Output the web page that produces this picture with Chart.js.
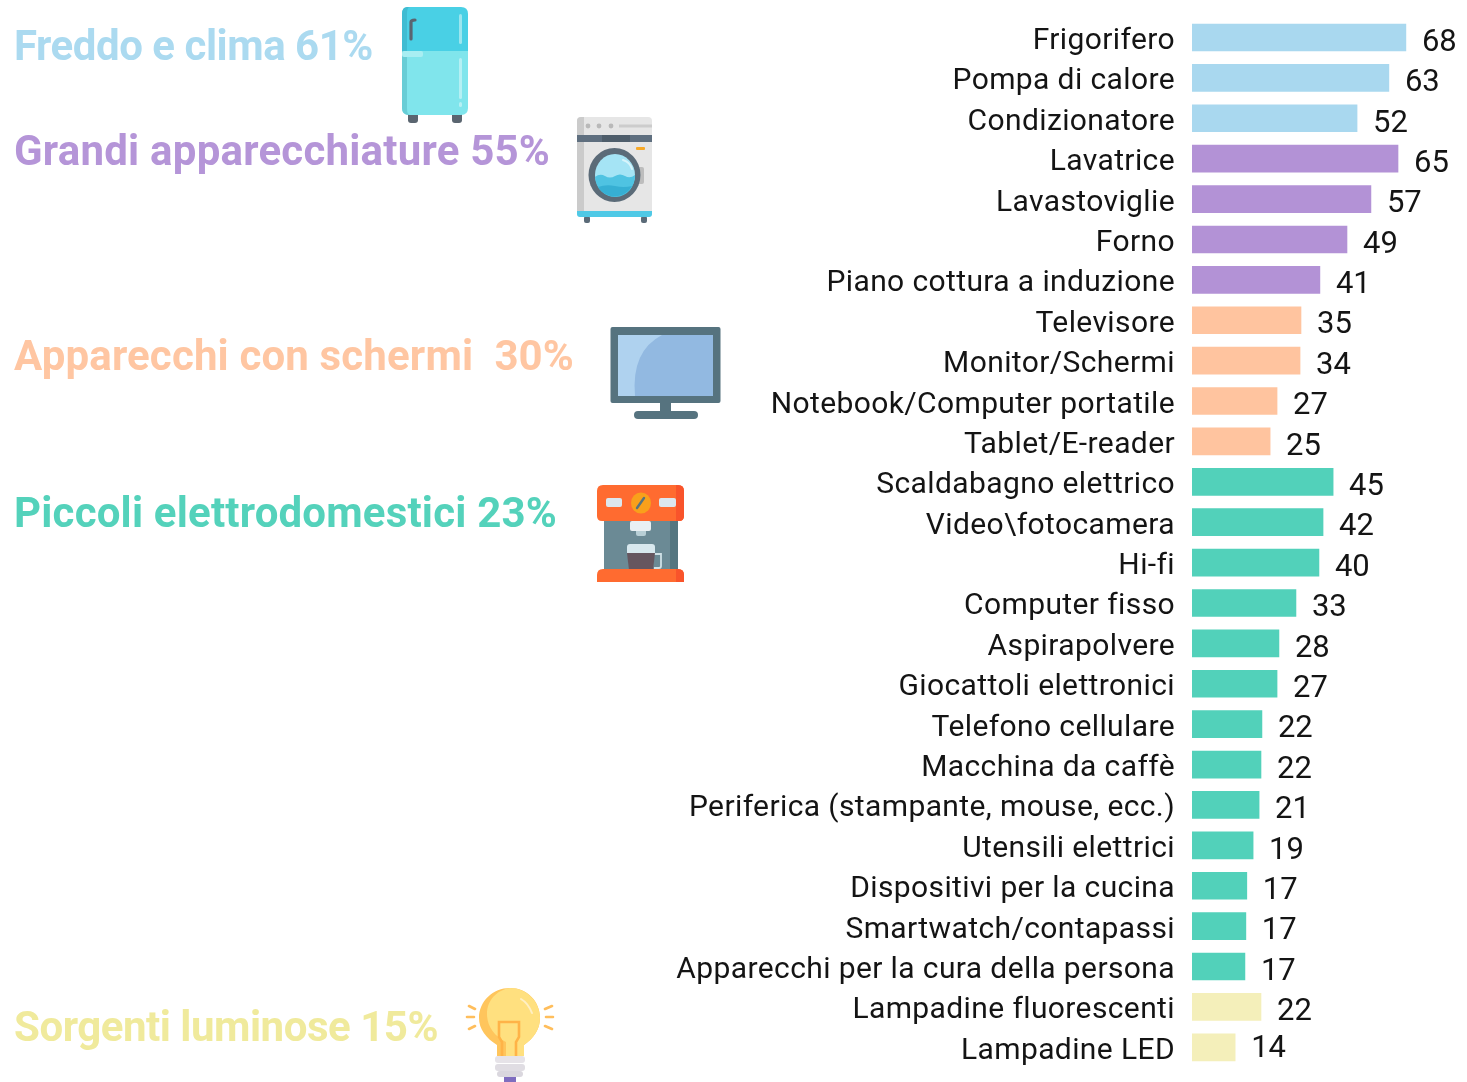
<!DOCTYPE html>
<html lang="it">
<head>
<meta charset="utf-8">
<title>Elettrodomestici</title>
<script src="https://cdn.jsdelivr.net/npm/chart.js@4"></script>
<style>
html,body{margin:0;padding:0;background:#fff;}
#wrap{position:relative;width:1467px;height:1082px;overflow:hidden;}
canvas{position:absolute;left:0;top:0;}
#icons{position:absolute;left:0;top:0;pointer-events:none;}
</style>
</head>
<body>
<div id="wrap">
<canvas id="c" width="1467" height="1082"></canvas>
<svg id="icons" width="1467" height="1082" viewBox="0 0 1467 1082" aria-hidden="true">
  <!-- fridge -->
  <rect x="408" y="112" width="10" height="11" rx="3" fill="#5A6570"/>
  <rect x="452" y="112" width="10" height="11" rx="3" fill="#5A6570"/>
  <path d="M402 51V14q0-7 7-7h52q7 0 7 7v37z" fill="#49D0E5"/>
  <path d="M402 51V14q0-7 5-7h3q-3 0-3 7v37z" fill="#3FBCD2"/>
  <path d="M402 51h66v57q0 7-7 7h-52q-7 0-7-7z" fill="#80E5EC"/>
  <path d="M402 51h5v57q0 7 3 7h-1q-7 0-7-7z" fill="#68CDD6"/>
  <rect x="402" y="51" width="21" height="6" rx="2" fill="#A8EEF2"/>
  <rect x="459" y="14" width="3" height="30" rx="1.5" fill="#9BE6EF"/>
  <rect x="459" y="58" width="3" height="41" rx="1.5" fill="#B5F0F4"/>
  <rect x="459" y="102" width="3" height="5" rx="1.5" fill="#B5F0F4"/>
  <path d="M411 39V22q0-2 4-2" fill="none" stroke="#5A6570" stroke-width="3.2" stroke-linecap="round"/>
  <!-- washer -->
  <rect x="584" y="216" width="6" height="7" rx="2" fill="#5B6B78"/>
  <rect x="641" y="216" width="6" height="7" rx="2" fill="#5B6B78"/>
  <rect x="577" y="117" width="75" height="100" rx="4" fill="#E6E6E6"/>
  <path d="M577 121q0-4 4-4h3v94h-7z" fill="#CBCBCB"/>
  <rect x="577" y="135" width="75" height="7" fill="#5F6F7F"/>
  <rect x="602" y="135" width="28" height="7" fill="#4F5E6B"/>
  <circle cx="588" cy="126" r="2.4" fill="#B9B9B9"/>
  <circle cx="599" cy="126" r="2.4" fill="#B9B9B9"/>
  <circle cx="611" cy="126" r="2.4" fill="#B9B9B9"/>
  <rect x="619" y="124.500" width="33" height="3" fill="#CCCCCC"/>
  <rect x="636" y="147" width="9" height="3" rx="1" fill="#F7A928"/>
  <rect x="634" y="167" width="10" height="17" rx="2" fill="#BDBDBD"/>
  <ellipse cx="614.500" cy="175" rx="26" ry="27" fill="#5B6B78"/>
  <ellipse cx="615" cy="175" rx="20" ry="21" fill="#A5E4F5"/>
  <path d="M595 177q5-4 10-1t10 0 10 0 10-1a20 21 0 0 1-40 2z" fill="#4FC3E2"/>
  <path d="M598 187q8-3 17-1t17 0a20 21 0 0 1-34 1z" fill="#36AFD3"/>
  <path d="M623 160q7 2 9 9" fill="none" stroke="#D8F4FB" stroke-width="2" stroke-linecap="round"/>
  <path d="M577 211h75v3q0 3-3 3h-69q-3 0-3-3z" fill="#4FC9E6"/>
  <!-- monitor -->
  <rect x="660" y="402" width="11" height="10" fill="#56737F"/>
  <rect x="634" y="411" width="64" height="8" rx="4" fill="#56737F"/>
  <rect x="610.500" y="327" width="110" height="76" rx="2" fill="#56737F"/>
  <rect x="618" y="335" width="95" height="61" fill="#92B9E1"/>
  <path d="M618 335h44q-31 16-27 61h-17z" fill="#AFD2EF"/>
  <!-- coffee machine -->
  <rect x="604" y="518" width="74" height="54" fill="#6B8A95"/>
  <rect x="670" y="518" width="8" height="54" fill="#557680"/>
  <path d="M597 491q0-6 6-6h75q6 0 6 6v25q0 5-5 5h-77q-5 0-5-5z" fill="#FF6B30"/>
  <path d="M676 485h2q6 0 6 6v25q0 5-5 5h-3z" fill="#F9542B"/>
  <rect x="606" y="498" width="16" height="9" rx="2" fill="#DCE7EE"/>
  <rect x="659" y="498" width="17" height="9" rx="2" fill="#DCE7EE"/>
  <ellipse cx="641" cy="503" rx="10" ry="10.500" fill="#F9A01B"/>
  <path d="M637 508l7-10" stroke="#56737F" stroke-width="2.400" stroke-linecap="round"/>
  <rect x="636" y="528" width="10" height="8" rx="2" fill="#B8CFD6"/>
  <rect x="630" y="521" width="21" height="10" rx="2" fill="#E9F0F3"/>
  <path d="M654 554h7v12q0 2-2 2h-5" fill="none" stroke="#CFE0E6" stroke-width="1.800"/>
  <path d="M627 547q0-3 3-3h22q3 0 3 3v6h-28z" fill="#D8E8EE"/>
  <path d="M627 553h28l-2 17h-24z" fill="#66565F"/>
  <path d="M597 575q0-6 6-6h75q6 0 6 6v7h-87z" fill="#FF6B30"/>
  <path d="M676 569h2q6 0 6 6v7h-8z" fill="#F9542B"/>
  <!-- bulb -->
  <rect x="504" y="1076" width="12" height="6" fill="#7F6DBF"/>
  <path d="M479 1018c0-17 14-30 31-30s30 13 30 30c0 11-6 20-16 27v11h-27v-11c-11-7-18-16-18-27z" fill="#FFC55C"/>
  <path d="M510 988c16 0 30 13 30 30 0 11-6 20-16 27v11h-18v-14c-12-6-19-16-19-28 0-14 10-24 23-26z" fill="#FFE07F"/>
  <path d="M521 999q7 4 11 14" fill="none" stroke="#FFEFC4" stroke-width="2" stroke-linecap="round"/>
  <path d="M502 1056v-14l-3-5v-15h20v15l-3 5v14M498 1022h22" fill="none" stroke="#FFB347" stroke-width="2.600"/>
  <rect x="495" y="1056" width="30" height="7" rx="3" fill="#E6E3E8"/>
  <rect x="495" y="1064" width="30" height="7" rx="3" fill="#E0DDE3"/>
  <rect x="497" y="1071" width="26" height="6" rx="3" fill="#DAD7DE"/>
  <g stroke="#FFBE5C" stroke-width="2.600" stroke-linecap="round">
    <path d="M469 1006l6 3M467 1017h7M469 1029l6-3M545 1009l7-3M546 1017h7M545 1026l7 3"/>
  </g>
</svg>
</div>
<script>
const categories = ["Frigorifero","Pompa di calore","Condizionatore","Lavatrice","Lavastoviglie","Forno","Piano cottura a induzione","Televisore","Monitor/Schermi","Notebook/Computer portatile","Tablet/E-reader","Scaldabagno elettrico","Video\\fotocamera","Hi-fi","Computer fisso","Aspirapolvere","Giocattoli elettronici","Telefono cellulare","Macchina da caffè","Periferica (stampante, mouse, ecc.)","Utensili elettrici","Dispositivi per la cucina","Smartwatch/contapassi","Apparecchi per la cura della persona","Lampadine fluorescenti","Lampadine LED"];
const values = [67.9,62.5,52.4,65.4,56.8,49.2,40.6,34.6,34.3,27,24.8,44.8,41.6,40.3,33,27.6,27,22.2,21.9,21.3,19.4,17.4,17.1,16.8,21.9,13.7];
const valueLabels = [68,63,52,65,57,49,41,35,34,27,25,45,42,40,33,28,27,22,22,21,19,17,17,17,22,14];
const barGroups = [0,0,0,1,1,1,1,2,2,2,2,3,3,3,3,3,3,3,3,3,3,3,3,3,4,4];
const groupNames = ["Freddo e clima 61%","Grandi apparecchiature 55%","Apparecchi con schermi  30%","Piccoli elettrodomestici 23%","Sorgenti luminose 15%"];
const barColors = ["#A9D8EF","#B392D6","#FFC49F","#52D1BA","#F4EFBA"];
const headingColors = ["#ABDAF0","#B595D8","#FFC6A2","#54D2BB","#F0EA9C"];
const headingBaselines = [60,165,370,527,1041];
const headingRight = [373,550,574,557,438];

const LEFT = 1192, UNIT = 3.15, FONT = "Roboto, sans-serif";

const decorations = {
  id: 'decorations',
  beforeDraw(chart) { chart.ctx.letterSpacing = '0.39px'; },
  afterDatasetsDraw(chart) {
    const ctx = chart.ctx, meta = chart.getDatasetMeta(0);
    ctx.save();
    ctx.letterSpacing = '0px';
    ctx.font = "31px " + FONT;
    ctx.fillStyle = "#141414";
    ctx.textAlign = "left";
    ctx.textBaseline = "middle";
    meta.data.forEach((bar, i) => {
      const off = i === valueLabels.length - 1 ? 2 : 5.5;
      ctx.fillText(String(valueLabels[i]), bar.x + 16, bar.y + off);
    });
    ctx.font = "700 42px " + FONT;
    ctx.textBaseline = "alphabetic";
    groupNames.forEach((name, i) => {
      ctx.letterSpacing = '0px';
      const w = ctx.measureText(name).width;
      ctx.letterSpacing = ((headingRight[i] - 14 - w) / name.length).toFixed(2) + 'px';
      ctx.fillStyle = headingColors[i];
      ctx.fillText(name, 14, headingBaselines[i]);
    });
    ctx.restore();
  }
};

new Chart(document.getElementById('c'), {
  type: 'bar',
  data: {
    labels: categories,
    datasets: [{
      data: values,
      backgroundColor: barGroups.map(g => barColors[g]),
      barThickness: 27,
      borderWidth: 0
    }]
  },
  options: {
    indexAxis: 'y',
    responsive: false,
    animation: false,
    events: [],
    layout: { padding: { left: 0, right: 0, top: 17.3, bottom: 14.5 } },
    plugins: { legend: { display: false }, tooltip: { enabled: false }, title: { display: false } },
    scales: {
      x: { display: false, min: 0, max: (1467 - LEFT) / UNIT, grid: { display: false } },
      y: {
        afterFit(s) { s.width = LEFT; s.paddingTop = 0; s.paddingBottom = 0; },
        grid: { display: false, drawTicks: false },
        border: { display: false },
        ticks: { autoSkip: false, padding: 17, labelOffset: 4, color: "#141414", font: { family: FONT, size: 30 } }
      }
    }
  },
  plugins: [decorations]
});
</script>
</body>
</html>
